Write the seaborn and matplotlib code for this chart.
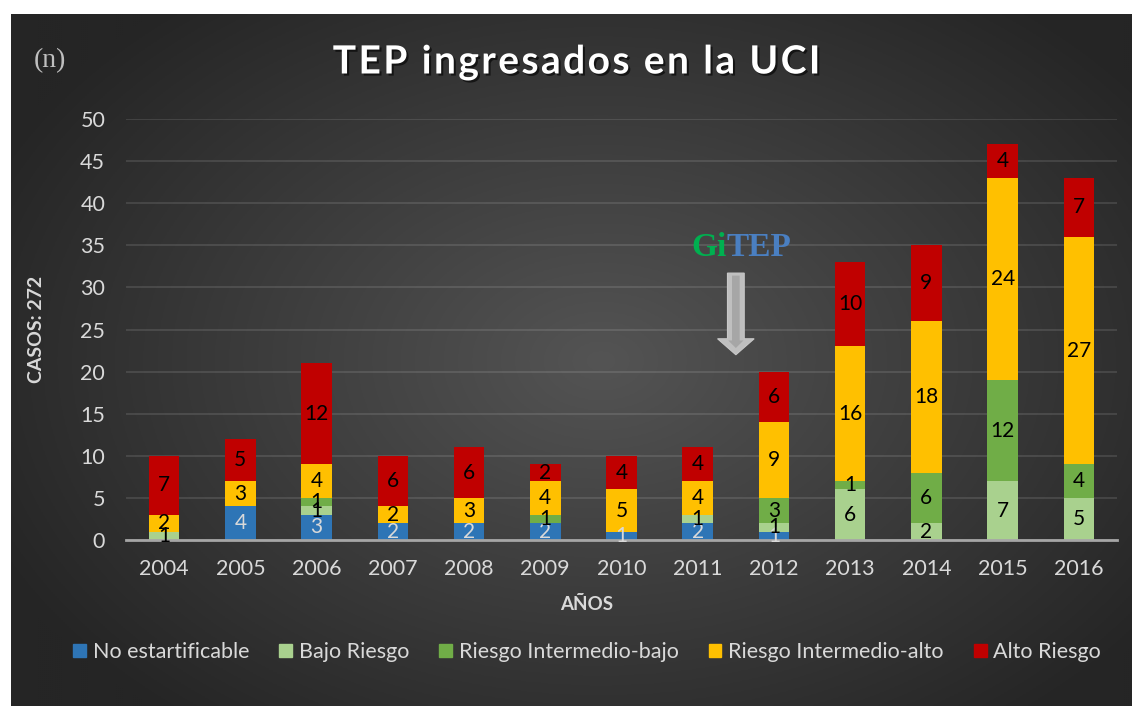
import numpy as np
import pandas as pd
import matplotlib
matplotlib.use("Agg")
import matplotlib.pyplot as plt
import matplotlib.patches as mpatches
import matplotlib.patheffects as pe
import seaborn as sns

years = ["2004", "2005", "2006", "2007", "2008", "2009", "2010", "2011", "2012", "2013", "2014", "2015", "2016"]
no_estratificable = [0, 4, 3, 2, 2, 2, 1, 2, 1, 0, 0, 0, 0]
bajo_riesgo = [1, 0, 1, 0, 0, 0, 0, 1, 1, 6, 2, 7, 5]
intermedio_bajo = [0, 0, 1, 0, 0, 1, 0, 0, 3, 1, 6, 12, 4]
intermedio_alto = [2, 3, 4, 2, 3, 4, 5, 4, 9, 16, 18, 24, 27]
alto_riesgo = [7, 5, 12, 6, 6, 2, 4, 4, 6, 10, 9, 4, 7]

series_names = ["No estartificable", "Bajo Riesgo", "Riesgo Intermedio-bajo", "Riesgo Intermedio-alto", "Alto Riesgo"]
series_vals = [no_estratificable, bajo_riesgo, intermedio_bajo, intermedio_alto, alto_riesgo]
colors = ["#2E75B6", "#A9D18E", "#70AD47", "#FFC000", "#C00000"]
label_colors = ["#D9D9D9", "black", "black", "black", "black"]

sns.set_theme(style="dark")
plt.rcParams["font.family"] = ["Lato", "DejaVu Sans"]

W, H = 1132, 706
fig = plt.figure(figsize=(W / 100, H / 100), dpi=100)
fig.patch.set_facecolor("white")

# gradient background panel
bg = fig.add_axes([11 / W, 0, (W - 11) / W, (H - 14) / H], zorder=-2)
ny, nx = 346, 560
yy, xx = np.mgrid[0:ny, 0:nx]
px = 11 + xx * (W - 11) / nx
py = 14 + yy * (H - 14) / ny
r = np.sqrt(((px - 600) / 640) ** 2 + ((py - 360) / 440) ** 2)
t = np.clip(r / 1.05, 0, 1)
val = (0x54 - (0x54 - 0x25) * t) / 255.0
img = np.dstack([val, val, val])
bg.imshow(img, aspect="auto", extent=[0, 1, 0, 1], origin="upper")
bg.set_axis_off()

ax = fig.add_axes([126 / W, 1 - 540 / H, (1117 - 126) / W, (540 - 119) / H])
ax.set_facecolor("none")

df = pd.DataFrame({"year": years})
cum = np.zeros(len(years))
cums = []
for v in series_vals:
    cum = cum + np.array(v)
    cums.append(cum.copy())
for i in range(len(series_vals) - 1, -1, -1):
    df["c"] = cums[i]
    sns.barplot(data=df, x="year", y="c", color=colors[i], saturation=1, width=0.4,
                order=years, ax=ax, linewidth=0, zorder=3)

# data labels
bottom = np.zeros(len(years))
for i, v in enumerate(series_vals):
    for j, val_ in enumerate(v):
        if val_ > 0:
            ax.text(j, bottom[j] + val_ / 2, str(val_), ha="center", va="center",
                    fontsize=15, color=label_colors[i], zorder=5)
    bottom = bottom + np.array(v)

ax.set_ylim(0, 50)
ax.set_xlim(-0.5, 12.5)
ax.set_yticks(range(0, 51, 5))
ax.grid(axis="y", color="white", alpha=0.13, linewidth=1.2, zorder=0)
ax.grid(axis="x", visible=False)
for s in ["top", "right", "left"]:
    ax.spines[s].set_visible(False)
ax.spines["bottom"].set_color("#A6A6A6")
ax.spines["bottom"].set_linewidth(2)
ax.spines["bottom"].set_zorder(4)
ax.tick_params(axis="both", length=0, labelsize=15.5, labelcolor="#D9D9D9")
ax.tick_params(axis="y", pad=15)
ax.tick_params(axis="x", pad=14)
ax.set_xlabel("")
ax.set_ylabel("")

# title
title = "\u200a".join("TEP ingresados en la UCI")
fig.text(576 / W, 1 - 62 / H, title, ha="center", va="center", fontsize=28, fontweight="bold",
         color="white", family=["Lato", "DejaVu Sans"],
         path_effects=[pe.withSimplePatchShadow(offset=(1.5, -1.5), shadow_rgbFace="black", alpha=0.6)])
fig.text(50 / W, 1 - 61 / H, "(n)", ha="center", va="center", fontsize=20, color="#BFBFBF",
         family=["Liberation Serif"])
fig.text(37 / W, 1 - 329 / H, "CASOS: 272", rotation=90, ha="center", va="center",
         fontsize=14, fontweight="bold", color="#D9D9D9")
fig.text(587 / W, 1 - 604 / H, "AÑOS", ha="center", va="center",
         fontsize=13.5, fontweight="bold", color="#D9D9D9")

# GiTEP annotation and arrow
ax.text(7.38, 34.7, "Gi", ha="right", va="center", fontsize=24, fontweight="bold",
        color="#00B050", family=["Liberation Serif"], zorder=6)
ax.text(7.38, 34.7, "TEP", ha="left", va="center", fontsize=24, fontweight="bold",
        color="#4A7FC1", family=["Liberation Serif"], zorder=6)
arrow = mpatches.FancyArrow(7.5, 31.7, 0, -9.7, width=0.22, head_width=0.48, head_length=1.9,
                            length_includes_head=True, fc="#BFBFBF", ec="#C8C8C8", lw=0.8, zorder=6)
ax.add_patch(arrow)
arrow2 = mpatches.FancyArrow(7.5, 31.4, 0, -8.6, width=0.1, head_width=0.2, head_length=0.9,
                             length_includes_head=True, fc="#A6A6A6", ec="none", zorder=7)
ax.add_patch(arrow2)

handles = [mpatches.Patch(color=c, label=n) for c, n in zip(colors, series_names)]
fig.legend(handles=handles, loc="center", bbox_to_anchor=(587 / W, 1 - 652 / H), ncol=5,
           frameon=False, fontsize=15.5, labelcolor="#D9D9D9", handlelength=0.6,
           handleheight=0.6, handletextpad=0.3, columnspacing=1.4)

fig.savefig("out.png", dpi=100, facecolor=fig.get_facecolor())
